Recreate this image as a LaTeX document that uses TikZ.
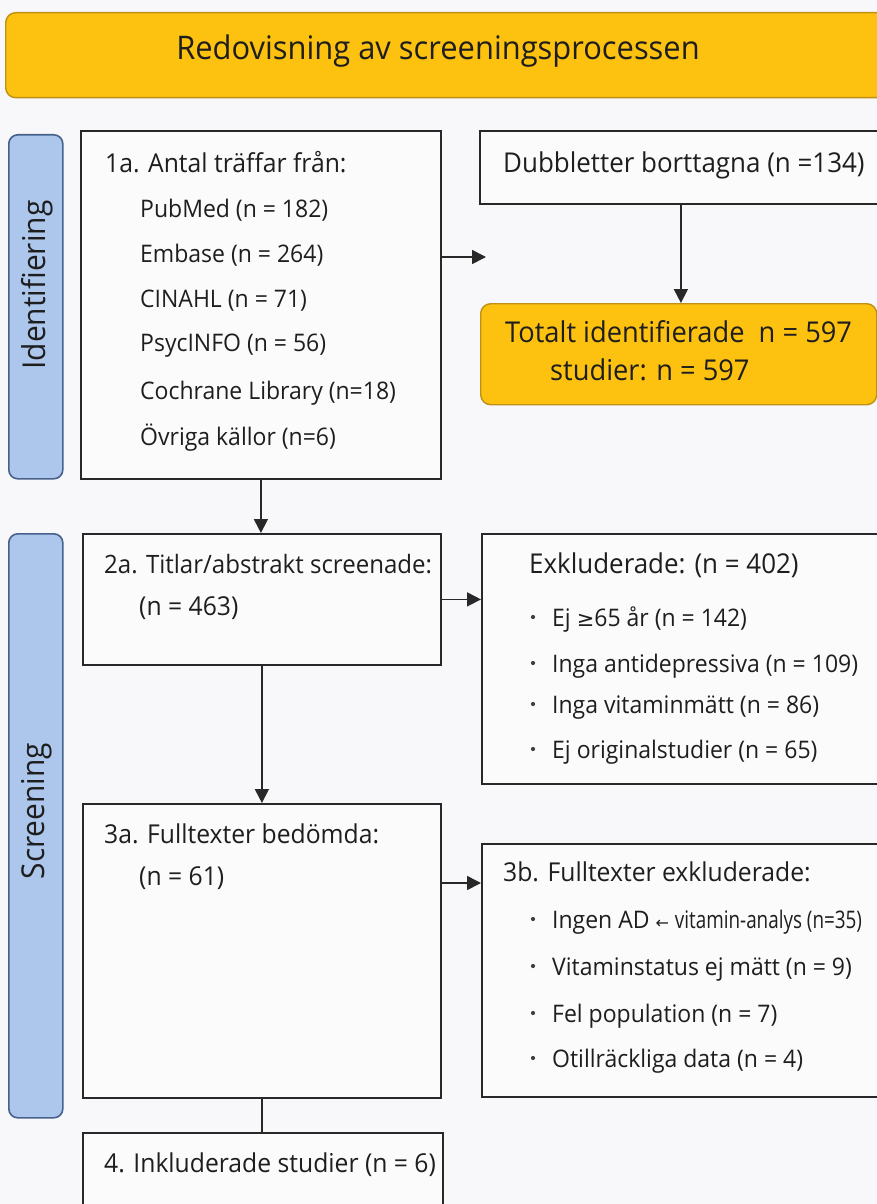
\documentclass[tikz,border=0pt]{standalone}
\usepackage{fontspec}
\setmainfont{Open Sans}[FakeStretch=0.95]
\newfontfamily\symfont{DejaVu Sans}
\usetikzlibrary{arrows.meta}
\definecolor{bgc}{RGB}{248,247,249}
\definecolor{boxc}{RGB}{252,251,252}
\definecolor{linec}{RGB}{40,40,40}
\definecolor{txtc}{RGB}{30,30,30}
\definecolor{goldc}{RGB}{253,193,16}
\definecolor{goldline}{RGB}{190,145,20}
\definecolor{bandc}{RGB}{172,198,236}
\definecolor{bandline}{RGB}{70,98,140}
\tikzset{
  box/.style={draw=linec, line width=1.8pt, fill=boxc, rectangle, inner sep=0pt, anchor=north west},
  goldbox/.style={draw=goldline, line width=1.4pt, fill=goldc, rectangle, rounded corners=10pt, inner sep=0pt, anchor=north west},
  band/.style={draw=bandline, line width=1.6pt, fill=bandc, rectangle, rounded corners=9pt, inner sep=0pt, anchor=north west},
  txt/.style={font=\fontsize{24.2}{29}\selectfont, text=txtc, inner sep=0pt, anchor=base west},
  head/.style={txt, font=\fontsize{26}{31}\selectfont},
  bighead/.style={txt, font=\fontsize{27.3}{32}\selectfont},
  tothead/.style={txt, font=\fontsize{28.7}{34}\selectfont},
  bandtxt/.style={font=\fontsize{31.5}{36}\selectfont, text=txtc, inner sep=0pt, rotate=90},
  arr/.style={draw=linec, line width=1.7pt, -{Triangle[length=14pt,width=14pt]}},
  conn/.style={draw=linec, line width=1.7pt},
  dot/.style={circle, fill=txtc!85, inner sep=0pt, minimum size=4.2pt}
}
\begin{document}
\begin{tikzpicture}[x=1pt,y=-1pt]
\useasboundingbox (0,0) rectangle (877,1204);
\fill[bgc] (0,0) rectangle (877,1204);
\clip (0,0) rectangle (877,1204);

% title
\node[goldbox, minimum width=885pt, minimum height=85pt] (title) at (5,12) {};
\node[font=\fontsize{32.5}{38}\selectfont, text=txtc, inner sep=0pt, anchor=base] (ttl) at (438,60) {Redovisning av screeningsprocessen};

% side bands
\node[band, minimum width=54pt, minimum height=344pt] (band1) at (8,134) {};
\node[bandtxt] (band1t) at (37,285) {Identifiering};
\node[band, minimum width=54pt, minimum height=584pt] (band2) at (8,533) {};
\node[bandtxt] (band2t) at (37,811) {Screening};

% boxes
\node[box, minimum width=360pt, minimum height=348pt] (b1a) at (80,130) {};
\node[box, minimum width=402pt, minimum height=73pt] (dub) at (479,130) {};
\node[goldbox, minimum width=396pt, minimum height=101pt] (tot) at (480,303) {};
\node[box, minimum width=358pt, minimum height=131pt] (b2a) at (82,533) {};
\node[box, minimum width=400pt, minimum height=250pt] (exk) at (481,533) {};
\node[box, minimum width=358pt, minimum height=294pt] (b3a) at (82,803) {};
\node[box, minimum width=400pt, minimum height=253pt] (b3b) at (481,843) {};
\node[box, minimum width=360pt, minimum height=100pt] (b4) at (82,1132) {};

% texts 1a
\node[head] (t1a) at (105,172) {1a. Antal träffar från:};
\node[txt] (t1b) at (140,217) {PubMed (n = 182)};
\node[txt] (t1c) at (140,262) {Embase (n = 264)};
\node[txt] (t1d) at (140,307) {CINAHL (n = 71)};
\node[txt] (t1e) at (140,351) {PsycINFO (n = 56)};
\node[txt] (t1f) at (140,399) {Cochrane Library (n=18)};
\node[txt] (t1g) at (140,445) {Övriga källor (n=6)};

\node[bighead] (tdub) at (503,172) {Dubbletter borttagna (n =134)};
\node[tothead] (ttot1) at (505,342) {Totalt identifierade\ \ n = 597};
\node[tothead] (ttot2) at (550,380) {studier: n = 597};

% 2a
\node[head, font=\fontsize{25.3}{30}\selectfont] (t2a) at (104,573) {2a. Titlar/abstrakt screenade:};
\node[head] (t2b) at (139,615) {(n = 463)};

% excluded
\node[bighead] (tex) at (529,573) {Exkluderade: (n = 402)};
\node[dot] (d1) at (533,617) {};
\node[txt] (tex1) at (552,626) {Ej {\symfont\fontsize{21}{26}\selectfont ≥}65 år (n = 142)};
\node[dot] (d2) at (533,663) {};
\node[txt] (tex2) at (552,672) {Inga antidepressiva (n = 109)};
\node[dot] (d3) at (533,704) {};
\node[txt] (tex3) at (552,713) {Inga vitaminmätt (n = 86)};
\node[dot] (d4) at (533,749) {};
\node[txt] (tex4) at (552,758) {Ej originalstudier (n = 65)};

% 3a
\node[head] (t3a) at (104,843) {3a. Fulltexter bedömda:};
\node[head] (t3b) at (139,885) {(n = 61)};

% 3b
\node[head] (t3x) at (503,881) {3b. Fulltexter exkluderade:};
\node[dot] (e1) at (533,919) {};
\node[txt] (t3x1) at (552,928) {Ingen AD {\symfont\fontsize{16}{20}\selectfont ←} \scalebox{0.82}[1]{vitamin-analys (n=35)}};
\node[dot] (e2) at (533,966) {};
\node[txt] (t3x2) at (552,975) {Vitaminstatus ej mätt (n = 9)};
\node[dot] (e3) at (533,1013) {};
\node[txt] (t3x3) at (552,1022) {Fel population (n = 7)};
\node[dot] (e4) at (533,1058) {};
\node[txt] (t3x4) at (552,1067) {Otillräckliga data (n = 4)};

% 4
\node[head] (t4) at (104,1172) {4. Inkluderade studier (n = 6)};

% connectors
\coordinate (a1end) at (486,257);
\draw[arr] (b1a.east |- a1end) -- (a1end);
\draw[arr] (dub.south) -- (dub.south |- tot.north);
\draw[arr] (b1a.south) -- (b1a.south |- b2a.north);
\draw[arr] (b2a.east) -- (b2a.east -| exk.west);
\draw[arr] (b2a.south) -- (b2a.south |- b3a.north);
\draw[arr] ([yshift=-80pt]b3a.north east) coordinate (a3s) -- (a3s -| b3b.west);
\draw[conn] (b3a.south) -- (b3a.south |- b4.north);
\end{tikzpicture}
\end{document}
